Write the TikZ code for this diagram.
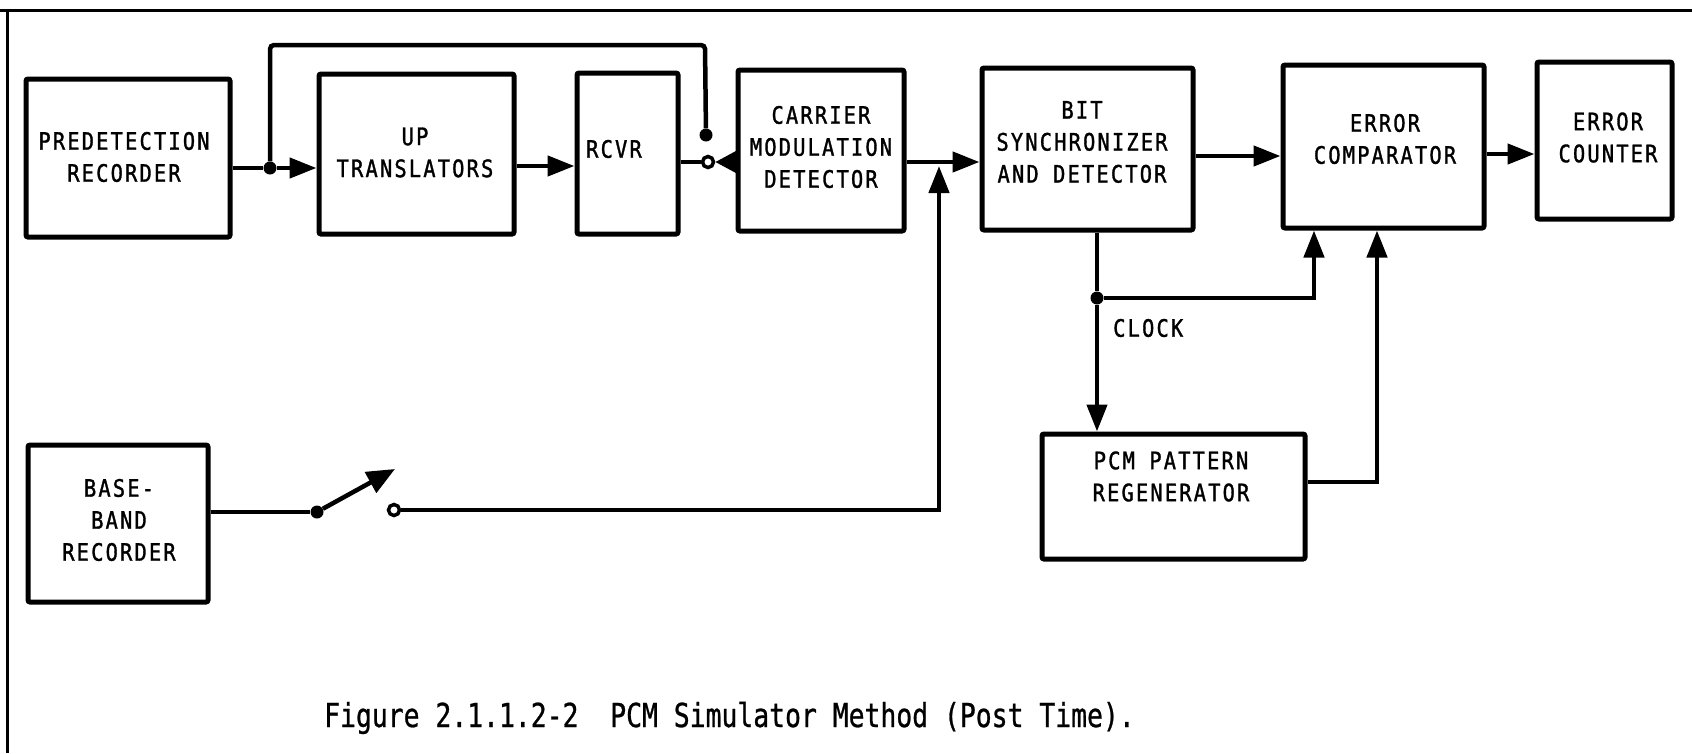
\documentclass[tikz,border=0pt]{standalone}
\usepackage{fontspec}
\newfontfamily\lblfont{DejaVu Sans Mono}[FakeStretch=0.85, LetterSpace=9, FakeBold=1.3]
\newfontfamily\capfont{DejaVu Sans Mono}[FakeStretch=0.8, FakeBold=0.8]
\usetikzlibrary{arrows.meta}
\tikzset{
  blk/.style={draw, line width=5pt, rounded corners=2pt, inner sep=0pt},
  lbl/.style={inner sep=0pt, align=center, font=\lblfont\fontsize{24}{32}\selectfont},
  wire/.style={line width=4.5pt},
  arr/.style={wire, -{Triangle[length=27pt,width=20pt]}},
  jdot/.style={circle, fill, inner sep=0pt, minimum size=13pt},
  contact/.style={circle, draw, line width=3.5pt, fill=white, inner sep=0pt, minimum size=11pt},
  frame/.style={line width=3pt}
}
\begin{document}
\begin{tikzpicture}[x=1pt,y=-1pt]
\useasboundingbox (0,0) rectangle (1692,753);
% frame
\draw[frame] (0,10) -- (1692,10);
\draw[frame] (7,10) -- (7,753);
% boxes
\node[blk, minimum width=204pt, minimum height=158pt] (pre) at (128,158) {};
\node[blk, minimum width=195pt, minimum height=160pt] (up) at (416.5,154) {};
\node[blk, minimum width=101pt, minimum height=161pt] (rcvr) at (627.5,153.5) {};
\node[blk, minimum width=166pt, minimum height=161pt] (car) at (821,150.5) {};
\node[blk, minimum width=211pt, minimum height=162pt] (bit) at (1087.5,149) {};
\node[blk, minimum width=201pt, minimum height=163pt] (cmp) at (1383.5,146.5) {};
\node[blk, minimum width=135pt, minimum height=157pt] (cnt) at (1604.5,140.5) {};
\node[blk, minimum width=180pt, minimum height=157pt] (base) at (118,523.5) {};
\node[blk, minimum width=263pt, minimum height=125pt] (pcm) at (1173.5,496.5) {};
% labels
\node[lbl] (pret) at (124,157) {PREDETECTION\\RECORDER};
\node[lbl] (upt) at (415,152.5) {UP\\TRANSLATORS};
\node[lbl] (rcvrt) at (614,149) {RCVR};
\node[lbl] (cart) at (821,147) {CARRIER\\MODULATION\\DETECTOR};
\node[lbl] (bitt) at (1082,142) {BIT\\SYNCHRONIZER\\AND DETECTOR};
\node[lbl] (cmpt) at (1385,139) {ERROR\\COMPARATOR};
\node[lbl] (cntt) at (1608,137.5) {ERROR\\COUNTER};
\node[lbl] (baset) at (119,520) {BASE-\\BAND\\RECORDER};
\node[lbl] (pcmt) at (1171,476.5) {PCM PATTERN\\REGENERATOR};
\node[lbl, anchor=west] (clock) at (1113,328) {CLOCK};
% caption
\node[inner sep=0pt, anchor=base west, font=\capfont\fontsize{33}{34}\selectfont] (cap) at (324,727) {Figure 2.1.1.2-2\ \ PCM Simulator Method (Post Time).};
% coordinates
\coordinate (j1) at (270,168);
\coordinate (fbtop) at (705,45);
\coordinate (y166) at (0,166);
\coordinate (y162) at (0,162);
\coordinate (m1) at (939,162);
\coordinate (m1b) at (939,166);
\coordinate (y156) at (0,156);
\coordinate (y154) at (0,154);
\coordinate (ck) at (1097,298);
\coordinate (e1) at (1314,298);
\coordinate (e2) at (1377,482);
\coordinate (blade) at (395,469);
% switch contacts and dots
\node[jdot] (d1) at (j1) {};
\node[jdot] (fbdot) at (706,135) {};
\node[contact] (c1) at (708,162) {};
\node[jdot] (sw1) at (317,512) {};
\node[contact] (c2) at (394,510) {};
\node[jdot] (d2) at (ck) {};
% connectors
\draw[wire] (pre.east |- j1) -- (d1);
\draw[arr] (d1) -- (up.west |- j1);
\draw[wire, rounded corners=4pt] (d1) -- (j1 |- fbtop) -- (fbtop) -- (fbdot);
\draw[arr] (up.east |- y166) -- (rcvr.west |- y166);
\draw[wire] (rcvr.east |- c1) -- (c1);
\draw[wire, -{Triangle[length=21pt,width=21pt]}] (car.west |- c1) -- (c1.east);
\draw[arr] (car.east |- y162) -- (bit.west |- y162);
\draw[wire] (base.east |- sw1) -- (sw1);
\draw[wire, -{Triangle[length=28pt,width=23pt]}] (sw1) -- (blade);
\draw[arr] (c2) -- (m1 |- c2) -- (m1b);
\draw[arr] (bit.east |- y156) -- (cmp.west |- y156);
\draw[arr] (cmp.east |- y154) -- (cnt.west |- y154);
\draw[wire] (bit.south -| ck) -- (d2);
\draw[arr] (d2) -- (pcm.north -| ck);
\draw[arr] (d2) -- (e1) -- (cmp.south -| e1);
\draw[arr] (pcm.east |- e2) -- (e2) -- (cmp.south -| e2);
\end{tikzpicture}
\end{document}
